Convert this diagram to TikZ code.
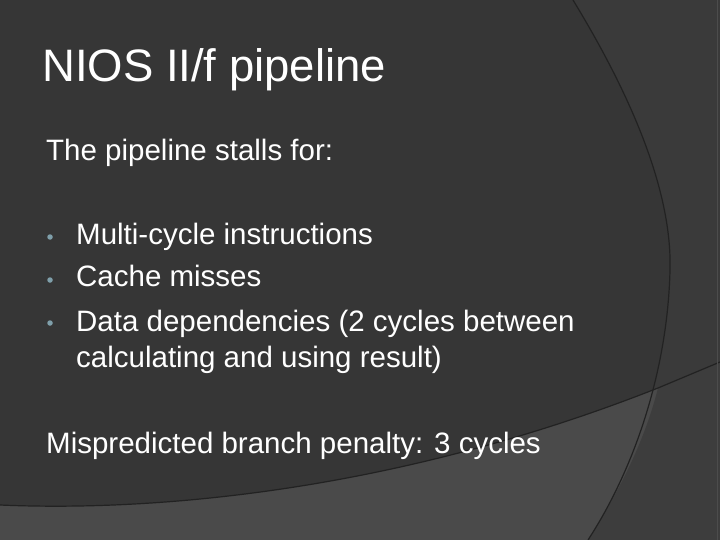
\documentclass[tikz,border=0pt]{standalone}
\usepackage{fontspec}
\setmainfont{Liberation Sans}
\definecolor{bg}{HTML}{363636}
\definecolor{outr}{HTML}{3A3A3A}
\definecolor{lowl}{HTML}{4A4A4A}
\definecolor{lowr}{HTML}{3D3D3D}
\definecolor{edge}{HTML}{222222}
\definecolor{bul}{HTML}{7F9FAA}
\begin{document}
\begin{tikzpicture}[x=1pt,y=-1pt,
  txt/.style={text=white,anchor=base west,inner sep=0pt,font=\fontsize{29.5}{34}\selectfont},
  dot/.style={circle,fill=bul,inner sep=0pt,minimum size=5.5pt}]
\useasboundingbox (0,0) rectangle (720,540);
\fill[bg] (0,0) rectangle (720,540);
\fill[outr] (573,0) .. controls (640,110) and (672,200) .. (670,270) .. controls (668,360) and (640,460) .. (588,540) -- (720,540) -- (720,0) -- cycle;
\fill[lowl] (0,505) .. controls (160,512) and (400,490) .. (658,388) -- (720,362) -- (720,540) -- (0,540) -- cycle;
\fill[lowr] (658,388) -- (720,362) -- (720,540) -- (588,540) .. controls (620,490) and (645,440) .. (658,388) -- cycle;
\draw[edge,line width=1.2pt] (0,505) .. controls (160,512) and (400,490) .. (658,388) -- (720,362);
\draw[edge,line width=1.2pt] (573,0) .. controls (640,110) and (672,200) .. (670,270) .. controls (668,360) and (640,460) .. (588,540);
\draw[black!70,line width=1pt] (717,0) -- (717,540);
\node[txt,font=\fontsize{45.5}{50}\selectfont] (title) at (42,82) {NIOS II/f pipeline};
\node[txt] (intro) at (46,161) {The pipeline stalls for:};
\node[dot] (b1) at (50,237) {};
\node[dot] (b2) at (50,280) {};
\node[dot] (b3) at (50,323) {};
\node[txt] (l1) at (76,244) {Multi-cycle instructions};
\node[txt] (l2) at (76,286) {Cache misses};
\node[txt] (l3) at (76,331) {Data dependencies (2 cycles between};
\node[txt] (l4) at (76,367) {calculating and using result)};
\node[txt] (mis) at (46,453) {Mispredicted branch penalty: 3 cycles};
\end{tikzpicture}
\end{document}
